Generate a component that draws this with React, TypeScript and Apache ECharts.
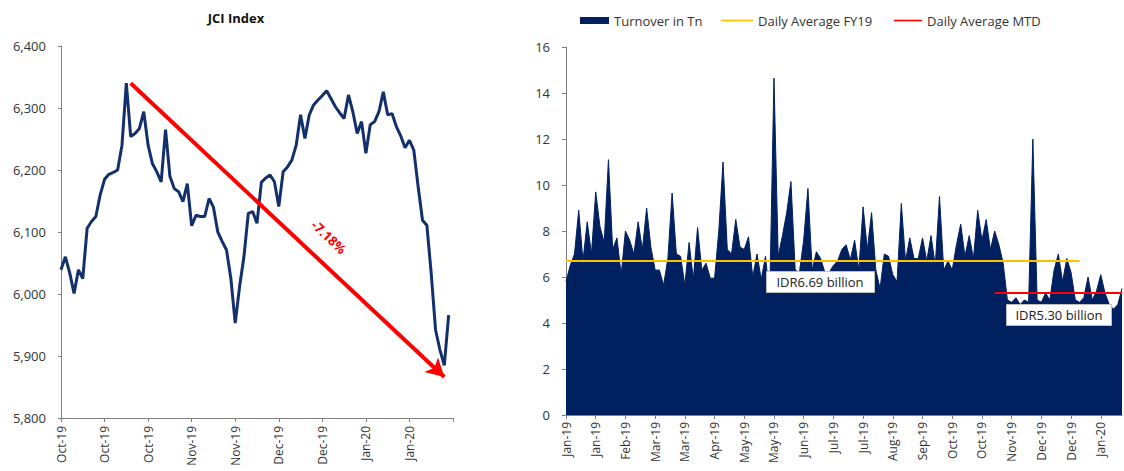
import React, { useEffect, useRef } from "react";
import * as echarts from "echarts";

// ---------- Left chart: JCI Index ----------
const LEFT_TICK_LABELS = ["Oct-19", "Oct-19", "Oct-19", "Nov-19", "Nov-19", "Dec-19", "Dec-19", "Jan-20", "Jan-20"];
const LEFT_TICK_EVERY = 10;
const LEFT_CATEGORY_COUNT = 91;
const JCI_VALUES = [
  6039, 6060, 6034, 6001, 6039, 6025, 6106, 6117, 6125, 6160,
  6185, 6193, 6196, 6200, 6240, 6340, 6254, 6259, 6267, 6294,
  6240, 6210, 6197, 6181, 6265, 6190, 6170, 6165, 6149, 6178,
  6110, 6127, 6125, 6125, 6154, 6140, 6100, 6085, 6071, 6025,
  5953, 6012, 6060, 6130, 6133, 6114, 6180, 6187, 6192, 6181,
  6141, 6197, 6205, 6216, 6240, 6289, 6251, 6289, 6305, 6313,
  6320, 6328, 6315, 6302, 6292, 6283, 6321, 6294, 6259, 6278,
  6227, 6273, 6278, 6294, 6326, 6289, 6291, 6270, 6255, 6236,
  6248, 6232, 6173, 6119, 6111, 6033, 5942, 5910, 5885, 5966,
];
const JCI_CHANGE_LABEL = "-7.18%";
const ARROW_START = { idx: 16, value: 6340 };
const ARROW_END = { idx: 88, value: 5866 };

// ---------- Right chart: Turnover ----------
const RIGHT_TICK_LABELS = [
  "Jan-19", "Jan-19", "Feb-19", "Mar-19", "Mar-19", "Apr-19", "May-19", "May-19", "Jun-19", "Jul-19",
  "Jul-19", "Aug-19", "Sep-19", "Oct-19", "Oct-19", "Nov-19", "Dec-19", "Dec-19", "Jan-20",
];
const RIGHT_TICK_EVERY = 7;
const TURNOVER = [
  5.8, 6.5, 7.0, 8.9, 6.7, 8.4, 7.0, 9.7, 8.2, 7.5,
  11.1, 7.2, 7.7, 6.1, 8.0, 7.6, 7.0, 8.4, 7.2, 9.0,
  7.3, 6.3, 6.3, 5.65, 6.8, 9.65, 7.0, 6.9, 5.65, 7.5,
  5.9, 8.15, 6.3, 6.6, 5.95, 5.95, 8.0, 11.0, 7.2, 7.0,
  8.5, 7.3, 7.2, 7.75, 6.0, 7.0, 5.9, 6.9, 5.1, 14.65,
  6.9, 7.8, 8.8, 10.15, 6.3, 6.2, 7.6, 9.85, 6.3, 7.1,
  6.8, 6.2, 6.2, 6.5, 6.7, 7.2, 7.4, 6.75, 7.6, 6.3,
  9.05, 7.2, 8.8, 6.3, 5.5, 7.0, 6.9, 6.1, 5.8, 9.2,
  6.7, 7.7, 6.8, 6.8, 7.7, 6.7, 7.8, 6.5, 9.5, 6.3,
  6.7, 6.3, 7.4, 8.3, 6.9, 7.8, 6.8, 8.9, 7.6, 8.5,
  7.2, 8.0, 7.4, 6.6, 5.0, 4.9, 5.1, 4.8, 5.0, 4.9,
  12.0, 5.0, 4.9, 5.3, 5.0, 6.3, 7.0, 5.8, 6.8, 6.2,
  5.0, 4.9, 5.1, 6.0, 5.0, 5.4, 6.1, 5.3, 4.8, 4.6,
  4.8, 5.5,
];
const FY19_AVG = 6.69;
const FY19_RANGE = [0, 121];
const MTD_AVG = 5.3;
const MTD_RANGE = [101, 131];
const FY19_LABEL = "IDR6.69 billion";
const MTD_LABEL = "IDR5.30 billion";

const NAVY = "#002060";
const LINE_NAVY = "#13306C";
const ORANGE = "#FFC000";
const RED = "#FF0000";
const FONT = '"Open Sans", "Noto Sans", sans-serif';
const TXT = "#333333";
const AXIS = "#808080";

const leftCats = Array.from({ length: LEFT_CATEGORY_COUNT }, (_, i) => LEFT_TICK_LABELS[Math.floor(i / LEFT_TICK_EVERY)] ?? "");
const rightCats = TURNOVER.map((_, i) => RIGHT_TICK_LABELS[Math.floor(i / RIGHT_TICK_EVERY)] ?? "");

export default function App() {
  const ref = useRef<HTMLDivElement>(null);
  useEffect(() => {
    document.body.style.margin = "0";
    if (!ref.current) return;
    const chart = echarts.init(ref.current, null, { renderer: "svg" });
    const option: any = {
      animation: false,
      textStyle: { fontFamily: FONT },
      grid: [
        { left: 61, top: 46, width: 392, height: 372, containLabel: false },
        { left: 566, top: 47, width: 556, height: 368, containLabel: false },
      ],
      legend: [
        {
          left: 575, top: 9, itemWidth: 29, itemHeight: 7, itemGap: 0,
          textStyle: { color: TXT, fontSize: 13, fontFamily: FONT },
          data: [{ name: "Turnover in Tn", icon: "rect" }],
        },
        {
          left: 716, top: 9, itemWidth: 32, itemHeight: 7, itemGap: 0,
          textStyle: { color: TXT, fontSize: 13, fontFamily: FONT },
          data: [{ name: "Daily Average FY19", icon: "path://M0,3 L32,3 L32,4.6 L0,4.6 Z" }],
        },
        {
          left: 889, top: 9, itemWidth: 28, itemHeight: 7, itemGap: 0,
          textStyle: { color: TXT, fontSize: 13, fontFamily: FONT },
          data: [{ name: "Daily Average MTD", icon: "path://M0,3 L28,3 L28,4.6 L0,4.6 Z" }],
        },
      ],
      xAxis: [
        {
          type: "category", gridIndex: 0, data: leftCats, boundaryGap: false,
          axisLine: { lineStyle: { color: AXIS } },
          axisTick: { interval: LEFT_TICK_EVERY - 1, length: 4, lineStyle: { color: AXIS } },
          axisLabel: {
            interval: LEFT_TICK_EVERY - 1, rotate: 90, color: TXT, fontSize: 12, margin: 8,
            fontFamily: FONT,
          },
          splitLine: { show: false },
        },
        {
          type: "category", gridIndex: 1, data: rightCats, boundaryGap: false,
          axisLine: { lineStyle: { color: AXIS } },
          axisTick: { interval: RIGHT_TICK_EVERY - 1, length: 4, lineStyle: { color: AXIS } },
          axisLabel: {
            interval: RIGHT_TICK_EVERY - 1, rotate: 90, color: TXT, fontSize: 12, margin: 7,
            fontFamily: FONT,
          },
          splitLine: { show: false },
        },
      ],
      yAxis: [
        {
          type: "value", gridIndex: 0, min: 5800, max: 6400, interval: 100,
          axisLine: { show: true, lineStyle: { color: AXIS } },
          axisTick: { show: true, length: 3, lineStyle: { color: AXIS } },
          axisLabel: {
            color: TXT, fontSize: 13, margin: 15, fontFamily: FONT,
            formatter: (v: number) => v.toLocaleString("en-US"),
          },
          splitLine: { show: false },
        },
        {
          type: "value", gridIndex: 1, min: 0, max: 16, interval: 2,
          axisLine: { show: true, lineStyle: { color: AXIS } },
          axisTick: { show: true, length: 4, lineStyle: { color: AXIS } },
          axisLabel: { color: TXT, fontSize: 13, margin: 16, fontFamily: FONT },
          splitLine: { show: false },
        },
      ],
      series: [
        {
          name: "JCI Index", type: "line", xAxisIndex: 0, yAxisIndex: 0,
          data: JCI_VALUES, symbol: "none", smooth: false,
          lineStyle: { color: LINE_NAVY, width: 3 },
          itemStyle: { color: LINE_NAVY },
          markLine: {
            silent: true, symbol: ["none", "arrow"], symbolSize: [15, 18],
            label: { show: false },
            lineStyle: { color: RED, width: 4, type: "solid" },
            data: [[
              { coord: [ARROW_START.idx, ARROW_START.value] },
              { coord: [ARROW_END.idx, ARROW_END.value] },
            ]],
          },
        },
        {
          name: "Turnover in Tn", type: "line", xAxisIndex: 1, yAxisIndex: 1,
          data: TURNOVER, symbol: "none",
          lineStyle: { color: NAVY, width: 1 },
          itemStyle: { color: NAVY },
          areaStyle: { color: NAVY, opacity: 1 },
        },
        {
          name: "Daily Average FY19", type: "line", xAxisIndex: 1, yAxisIndex: 1,
          data: [], symbol: "none",
          lineStyle: { color: ORANGE, width: 2 }, itemStyle: { color: ORANGE },
          markLine: {
            silent: true, symbol: ["none", "none"], label: { show: false },
            lineStyle: { color: ORANGE, width: 2, type: "solid" },
            data: [[
              { coord: [FY19_RANGE[0], FY19_AVG] },
              { coord: [FY19_RANGE[1], FY19_AVG] },
            ]],
          },
        },
        {
          name: "Daily Average MTD", type: "line", xAxisIndex: 1, yAxisIndex: 1,
          data: [], symbol: "none",
          lineStyle: { color: RED, width: 2 }, itemStyle: { color: RED },
          markLine: {
            silent: true, symbol: ["none", "none"], label: { show: false },
            lineStyle: { color: RED, width: 2, type: "solid" },
            data: [[
              { coord: [MTD_RANGE[0], MTD_AVG] },
              { coord: [MTD_RANGE[1], MTD_AVG] },
            ]],
          },
        },
      ],
      graphic: [
        {
          type: "text", x: 236, y: 18, z: 100,
          style: {
            text: "JCI Index", font: `bold 13px ${FONT}`, fill: "#111",
            align: "center", verticalAlign: "middle", textAlign: "center", textVerticalAlign: "middle",
          },
        },
        {
          type: "text", x: 329, y: 237, rotation: -0.757, z: 100,
          style: {
            text: JCI_CHANGE_LABEL, font: `bold 13px ${FONT}`, fill: RED,
            align: "center", verticalAlign: "middle", textAlign: "center", textVerticalAlign: "middle",
          },
        },
        {
          type: "rect", z: 100, shape: { x: 766.5, y: 271.5, width: 108, height: 21 },
          style: { fill: "#ffffff", stroke: "#bfbfbf", lineWidth: 1 },
        },
        {
          type: "text", x: 820, y: 282, z: 101,
          style: {
            text: FY19_LABEL, font: `13px ${FONT}`, fill: "#222",
            align: "center", verticalAlign: "middle", textAlign: "center", textVerticalAlign: "middle",
          },
        },
        {
          type: "rect", z: 100, shape: { x: 1006.5, y: 304.5, width: 105, height: 21 },
          style: { fill: "#ffffff", stroke: "#bfbfbf", lineWidth: 1 },
        },
        {
          type: "text", x: 1059, y: 315, z: 101,
          style: {
            text: MTD_LABEL, font: `13px ${FONT}`, fill: "#222",
            align: "center", verticalAlign: "middle", textAlign: "center", textVerticalAlign: "middle",
          },
        },
      ],
    };
    chart.setOption(option);
    return () => chart.dispose();
  }, []);
  return <div ref={ref} style={{ width: 1124, height: 471 }} />;
}
